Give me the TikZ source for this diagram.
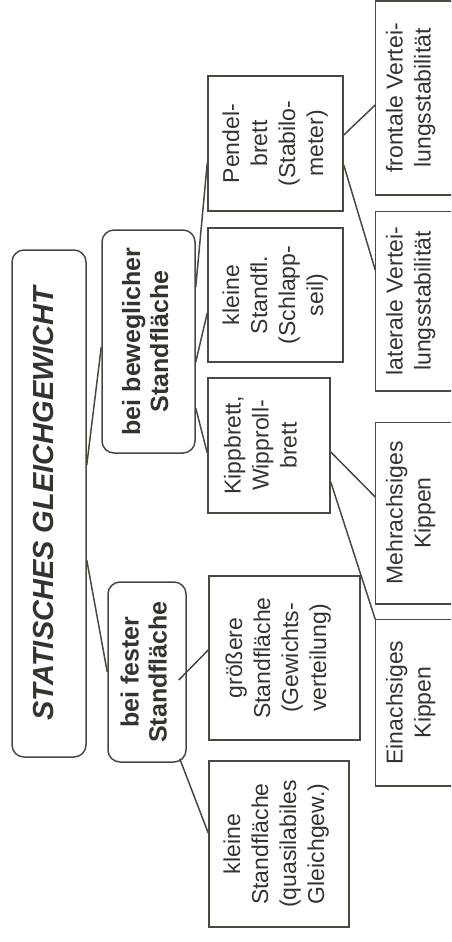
\documentclass[tikz,border=0pt]{standalone}
\usepackage{fontspec}
\setmainfont{Liberation Sans}
\usetikzlibrary{calc}
\definecolor{ink}{RGB}{72,74,64}
\definecolor{txt}{RGB}{52,52,46}
\newcommand\rt[2][0pt]{\rotatebox{90}{\begin{tabular}{@{}c@{}}#2\end{tabular}}\hspace*{#1}}
\begin{document}
\begin{tikzpicture}[x=1pt,y=-1pt,
  box/.style={draw=ink, line width=1.5pt, inner sep=0pt, text=txt, font=\fontsize{23}{28}\selectfont},
  rbox/.style={box, rounded corners=12pt},
  bbox/.style={rbox, font=\fontsize{25}{28}\selectfont\bfseries},
  openbox/.style={box, draw=none},
  link/.style={draw=ink, line width=1.5pt}]
\useasboundingbox (0,0) rectangle (451,942);
\clip (0,0) rectangle (451,942);
% level 0
\node[rbox, minimum width=74pt, minimum height=507pt, font=\fontsize{29}{35}\selectfont\bfseries\itshape] (main) at (49,503.5) {\rt[4pt]{STATISCHES GLEICHGEWICHT}};
% level 1
\node[bbox, minimum width=93pt, minimum height=223pt] (bewegl) at (148.5,341.5) {\rt{bei beweglicher\\Standfläche}};
\node[bbox, minimum width=78pt, minimum height=180pt] (fester) at (147,672) {\rt{bei fester\\Standfläche}};
% level 2
\node[box, minimum width=135pt, minimum height=135pt] (pendel) at (275.5,143.5) {\rt{Pendel-\\brett\\(Stabilo-\\meter)}};
\node[box, minimum width=135pt, minimum height=134pt] (kstandfl) at (275.5,295) {\rt{kleine\\Standfl.\\(Schlapp-\\seil)}};
\node[box, minimum width=122pt, minimum height=135pt] (kipp) at (269,445.5) {\rt[12pt]{Kippbrett,\\Wipproll-\\brett}};
\node[box, minimum width=151pt, minimum height=164pt] (groessere) at (284.5,658) {\rt[12pt]{größere\\Standfläche\\(Gewichts-\\verteilung)}};
\node[box, minimum width=140pt, minimum height=166pt] (kleinest) at (279,844) {\rt[5pt]{kleine\\Standfläche\\(quasilabiles\\Gleichgew.)}};
% level 3 (right edge cut off)
\node[openbox, minimum width=70pt, minimum height=192pt] (frontale) at (411,98) {\rt{frontale Vertei-\\lungsstabilität}};
\node[openbox, minimum width=70pt, minimum height=178pt] (laterale) at (411,301) {\rt{laterale Vertei-\\lungsstabilität}};
\node[openbox, minimum width=70pt, minimum height=180pt] (mehr) at (411,513) {\rt{Mehrachsiges\\Kippen}};
\node[openbox, minimum width=70pt, minimum height=165pt] (ein) at (411,702.5) {\rt{Einachsiges\\Kippen}};
\foreach \n in {frontale,laterale,mehr,ein}
  \draw[link] ($(\n.north east)+(30,0)$) -- (\n.north west) -- (\n.south west) -- ($(\n.south east)+(30,0)$);
% connectors
\draw[link] (main.east |- 0,465) -- (bewegl.west |- 0,347);
\draw[link] (main.east |- 0,560) -- (fester.west |- 0,672);
\draw[link] (bewegl.east |- 0,287) -- (pendel.west |- 0,163);
\draw[link] (bewegl.east |- 0,362) -- (kstandfl.west |- 0,313);
\draw[link] (bewegl.east |- 0,408) -- (kipp.west |- 0,453);
\draw[link] ($(fester.east |- 0,680)+(-8,0)$) -- (groessere.west |- 0,650);
\draw[link] ($(fester.south east)+(-7,-4)$) -- (kleinest.west |- 0,833);
\draw[link] (pendel.east |- 0,135) -- (frontale.west |- 0,105);
\draw[link] (pendel.east |- 0,165) -- (laterale.west |- 0,270);
\draw[link] (kipp.east |- 0,452) -- (mehr.west |- 0,497);
\draw[link] (kipp.east |- 0,482) -- (ein.north west);
\end{tikzpicture}
\end{document}
